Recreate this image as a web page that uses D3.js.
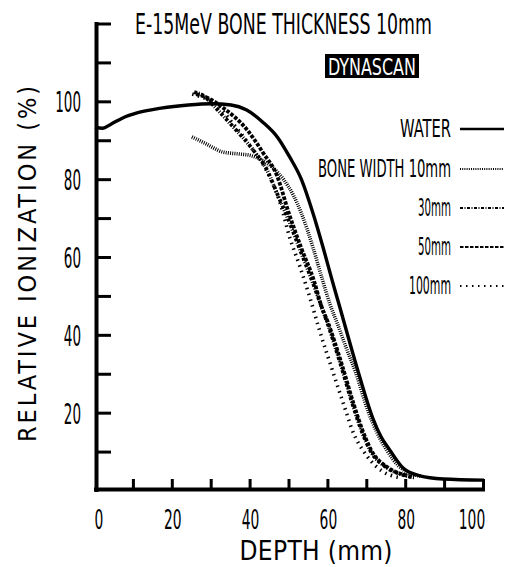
<!DOCTYPE html>
<html>
<head>
<meta charset="utf-8">
<script src="https://cdn.jsdelivr.net/npm/d3@7"></script>
<style>
body { margin: 0; background: #fff; }
text { font-family: "Liberation Sans Narrow", "DejaVu Sans Condensed", "Liberation Sans", sans-serif; fill: #000; }
</style>
</head>
<body>
<div id="chart"></div>
<script>
// depth (mm) / relative ionization (%)
var water = [[0, 93.5], [2, 93.2], [4, 94.2], [7, 95.8], [11, 97.2], [17, 98.4], [24, 99.2], [30, 99.5], [35, 99.2], [39, 97.9], [43, 94.9], [47, 90.8], [50, 85.9], [53, 80.2], [56, 71.5], [58.6, 62.7], [61, 54], [63, 47], [64.8, 40.6], [68, 29.5], [71.5, 18.5], [73.5, 14], [75.8, 10.5], [79.2, 5.9], [83.5, 3.9], [89.5, 3.1], [100, 2.8]];
var bone10 = [[24.9, 91], [28, 89.5], [32.9, 87.1], [37, 86.6], [40, 86.2], [43, 85], [45.8, 83], [48.5, 80], [51, 76], [53, 71.5], [56, 62.7], [58.4, 54.5], [60.4, 48], [62.5, 42.5], [64.5, 37], [67, 30.5], [70.2, 20.5], [72.5, 15], [75, 10.5], [78, 6.5], [81, 4.5], [84, 3.8]];
var bone30 = [[25.5, 102.5], [28, 101.5], [30.5, 99], [35.5, 93.6], [40.6, 87.7], [44.2, 82.5], [47, 76], [49.4, 70.5], [52.7, 62], [56, 53.5], [58, 48], [59.8, 43], [63, 33], [66.3, 22], [68.5, 15.5], [70.7, 10.5], [75, 6], [79, 4.2], [82, 3.5]];
var bone50 = [[26, 102], [29, 101], [32.9, 98.5], [39.1, 92.8], [43.2, 86.9], [46.8, 81], [49.8, 71.5], [53, 62.5], [56.3, 54], [58.2, 47.5], [60, 43], [63.3, 33], [66.6, 22], [68.8, 15.5], [71, 10.5], [75.3, 6], [79.3, 4.2], [82, 3.5]];
var bone100 = [[25, 102], [28, 101], [31, 99.5], [35, 95], [40, 88.5], [44, 82.5], [47.6, 74], [50.1, 65], [52.7, 57.6], [55.3, 49.5], [57.8, 41], [61.2, 30.5], [64.5, 20.5], [66, 16], [69.9, 9], [74, 5], [78, 3.5]];

var seriesNames = ["WATER", "BONE  WIDTH  10mm", "30mm", "50mm", "100mm"];
var xTickLabels = [0, 20, 40, 60, 80, 100];
var yTickLabels = [20, 40, 60, 80, 100];

var W = 508, H = 567;
var svg = d3.select("#chart").append("svg").attr("width", W).attr("height", H);

var x = d3.scaleLinear().domain([0, 100]).range([95, 484]);
var y = d3.scaleLinear().domain([0, 120]).range([491, 24]);

// squeeze a text horizontally so it fills "width" (narrow typewriter look of the original)
function fitText(parent, px, py, txt, size, width, anchor, color) {
    var t = parent.append("text").attr("x", 0).attr("y", 0)
        .attr("font-size", size).attr("text-anchor", anchor || "start")
        .text(txt);
    if (color) t.style("fill", color);
    var w = t.node().getComputedTextLength();
    var k = width / w;
    t.attr("transform", "translate(" + px + "," + py + ") scale(" + k + ",1)");
    return t;
}

// spread a text with letter spacing so it spans "width"
function spreadText(parent, txt, size, width) {
    var t = parent.append("text").attr("x", 0).attr("y", 0)
        .attr("font-size", size).attr("text-anchor", "middle")
        .text(txt);
    var w = t.node().getComputedTextLength();
    var sp = (width - w) / (txt.length - 1);
    t.attr("letter-spacing", sp).attr("dx", sp / 2);
    return t;
}

var styles = [
    { data: water, width: 3.4, dash: null },
    { data: bone10, width: 3.6, dash: "1,1.2" },
    { data: bone30, width: 3.8, dash: "3,1.5,1,1.5" },
    { data: bone50, width: 3.8, dash: "3.5,1.5" },
    { data: bone100, width: 3.6, dash: "1.5,4.5" }
];

var line = d3.line()
    .x(function (d) { return x(d[0]); })
    .y(function (d) { return y(d[1]); })
    .curve(d3.curveMonotoneX);

// axes frame
var frame = svg.append("g");
frame.append("line").attr("x1", x(0) + 1.5).attr("x2", x(0) + 1.5).attr("y1", y(120) - 2).attr("y2", y(0) + 1)
    .attr("stroke", "#000").attr("stroke-width", 4);
frame.append("line").attr("x1", x(0) - 1).attr("x2", x(100) + 1).attr("y1", y(0) - 1.5).attr("y2", y(0) - 1.5)
    .attr("stroke", "#000").attr("stroke-width", 4);

frame.selectAll(".ytick").data(d3.range(10, 121, 10)).enter().append("line")
    .attr("x1", x(0) + 2).attr("x2", x(0) + 16)
    .attr("y1", function (d) { return y(d); }).attr("y2", function (d) { return y(d); })
    .attr("stroke", "#000").attr("stroke-width", 3);

frame.selectAll(".xtick").data(d3.range(10, 101, 10)).enter().append("line")
    .attr("x1", function (d) { return x(d) - 0.5; }).attr("x2", function (d) { return x(d) - 0.5; })
    .attr("y1", y(0)).attr("y2", y(0) - 12)
    .attr("stroke", "#000").attr("stroke-width", 3);

// tick labels
var labels = svg.append("g");
yTickLabels.forEach(function (d) {
    fitText(labels, 81, y(d) + 10.5, String(d), 29, String(d).length * 8.6, "end");
});
xTickLabels.forEach(function (d) {
    var px = x(d);
    if (d == 0) px = x(d) + 4;
    if (d == 100) px = x(d) - 12;
    fitText(labels, px, 529, String(d), 27, String(d).length * 8.8, "middle");
});

// axis titles
var yt = svg.append("g").attr("transform", "translate(36,264) rotate(-90)");
spreadText(yt, "RELATIVE IONIZATION (%)", 25, 356);

var xt = svg.append("g").attr("transform", "translate(316,560)");
spreadText(xt, "DEPTH (mm)", 26, 153);

// title
fitText(svg, 135, 34, "E-15MeV  BONE  THICKNESS  10mm", 28, 297, "start");

svg.append("rect").attr("x", 325).attr("y", 54).attr("width", 94).attr("height", 24).attr("fill", "#000");
fitText(svg, 328, 75, "DYNASCAN", 23, 88, "start", "#fff");

// curves
svg.selectAll(".curve").data(styles).enter().append("path")
    .attr("d", function (d) { return line(d.data); })
    .attr("fill", "none").attr("stroke", "#000")
    .attr("stroke-width", function (d) { return d.width; })
    .attr("stroke-dasharray", function (d) { return d.dash; });

// legend
var legendY = [128, 168, 207, 246, 285];
var legendW = [51, 133, 33, 33, 42];
styles.forEach(function (d, i) {
    fitText(svg, 451, legendY[i] + 8.5, seriesNames[i], 24, legendW[i], "end");
    svg.append("line").attr("x1", 460).attr("x2", 504)
        .attr("y1", legendY[i] + 1).attr("y2", legendY[i] + 1)
        .attr("stroke", "#000")
        .attr("stroke-width", i == 0 ? 2.5 : 2)
        .attr("stroke-dasharray", d.dash);
});
</script>
</body>
</html>
